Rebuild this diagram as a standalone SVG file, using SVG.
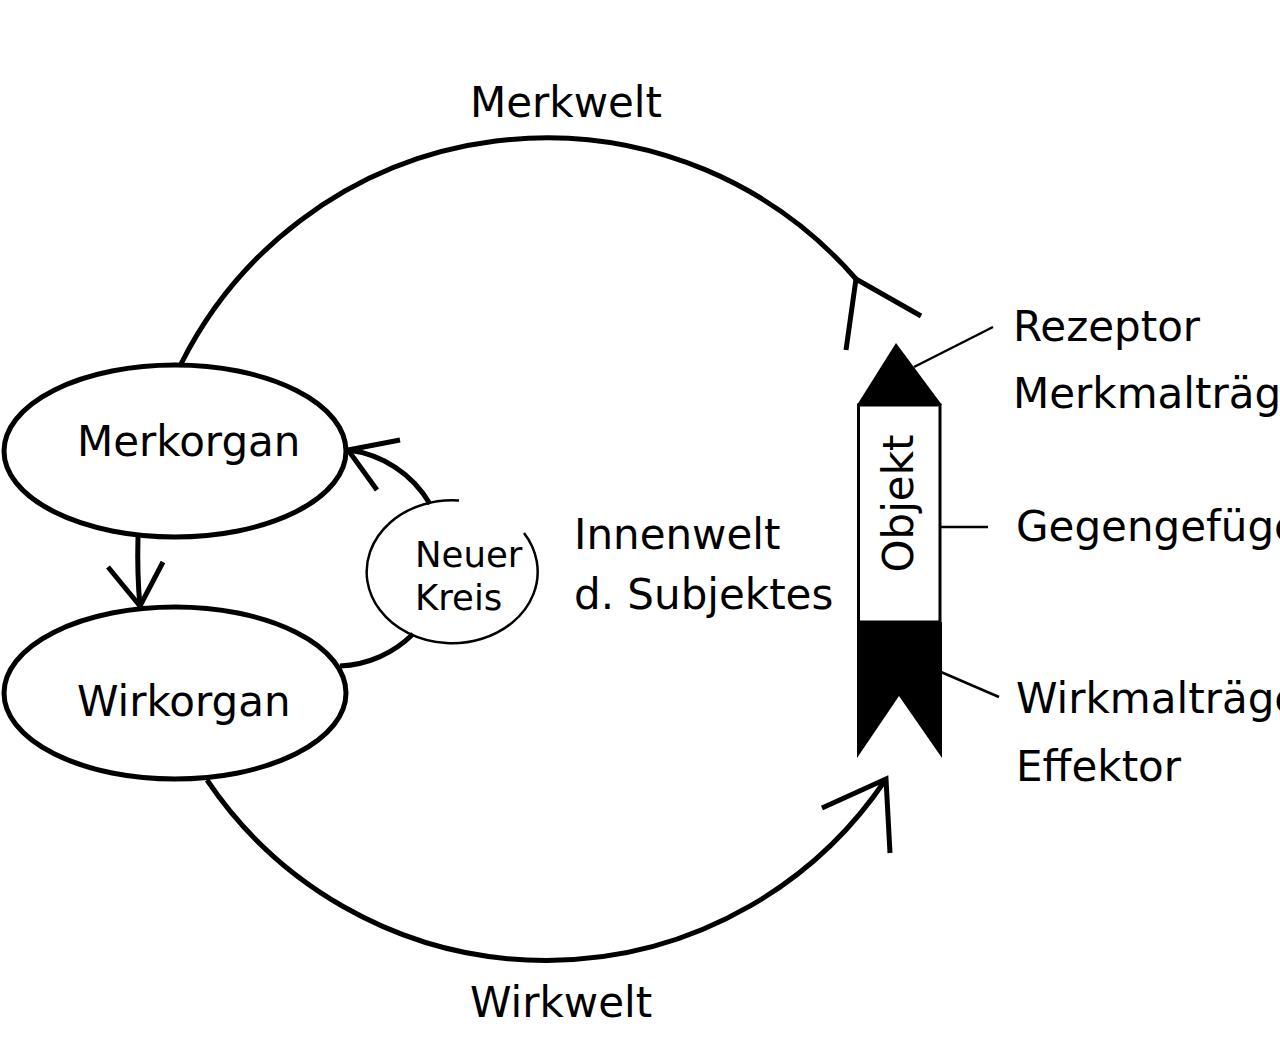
<svg xmlns="http://www.w3.org/2000/svg" width="1280" height="1038" viewBox="0 0 1280 1038">
<style>
text { font-family: "DejaVu Sans", "Liberation Sans", sans-serif; fill: #000; }
.lbl { font-size: 42px; }
.small { font-size: 35.5px; }
.thick { fill: none; stroke: #000; stroke-width: 5; stroke-linecap: butt; }
.organ { fill: #fff; stroke: #000; stroke-width: 5; }
.thin { fill: none; stroke: #000; stroke-width: 2.5; }
</style>
<rect width="1280" height="1038" fill="#fff"/>
<g id="connectors">
  <path class="thick" d="M 181 364 A 409 409 0 0 1 856 279"/>
  <polyline class="thick" points="846,350 856,279 921,316"/>
  <path class="thick" d="M 207 780 A 409 409 0 0 0 886 779"/>
  <polyline class="thick" points="822,808 886,779 890,853"/>
  <path class="thick" d="M 138 537 Q 137 575 140 606"/>
  <polyline class="thick" points="108,567 140,606 163,562"/>
  <path class="thick" d="M 430 504 A 110 110 0 0 0 348 450"/>
  <polyline class="thick" points="400,440 348,450 377,490"/>
  <path class="thick" d="M 413 634 A 110 110 0 0 1 340 666"/>
  <line class="thin" x1="914" y1="367" x2="993" y2="327"/>
  <line class="thin" x1="940" y1="527" x2="988" y2="527"/>
  <line class="thin" x1="941" y1="672" x2="999" y2="697"/>
</g>
<g id="merkorgan">
  <ellipse class="organ" cx="175" cy="451" rx="171" ry="86"/>
  <text class="lbl" x="77" y="456">Merkorgan</text>
</g>
<g id="wirkorgan">
  <ellipse class="organ" cx="175" cy="693" rx="171" ry="86"/>
  <text class="lbl" x="77" y="716">Wirkorgan</text>
</g>
<g id="neuer-kreis">
  <path class="thin" d="M 459 500.5 A 85.5 71.5 0 1 0 524 533"/>
  <text class="small" x="415" y="567">Neuer</text>
  <text class="small" x="415" y="610">Kreis</text>
</g>
<g id="objekt">
  <polygon points="857,405 896,343 942,405" fill="#000"/>
  <rect x="858.5" y="405" width="81.5" height="217" fill="#fff" stroke="#000" stroke-width="3"/>
  <polygon points="857,622 942,622 942,758 899,696 857,758" fill="#000"/>
  <text class="lbl" text-anchor="middle" transform="translate(913,503.5) rotate(-90)">Objekt</text>
</g>
<g id="labels">
  <text class="lbl" x="470" y="117">Merkwelt</text>
  <text class="lbl" x="470" y="1017">Wirkwelt</text>
  <text class="lbl" x="574" y="549">Innenwelt</text>
  <text class="lbl" x="574" y="609">d. Subjektes</text>
  <text class="lbl" x="1013" y="341">Rezeptor</text>
  <text class="lbl" x="1013" y="408">Merkmalträger</text>
  <text class="lbl" x="1016" y="541">Gegengefüge</text>
  <text class="lbl" x="1016" y="713">Wirkmalträger</text>
  <text class="lbl" x="1016" y="781">Effektor</text>
</g>
</svg>
